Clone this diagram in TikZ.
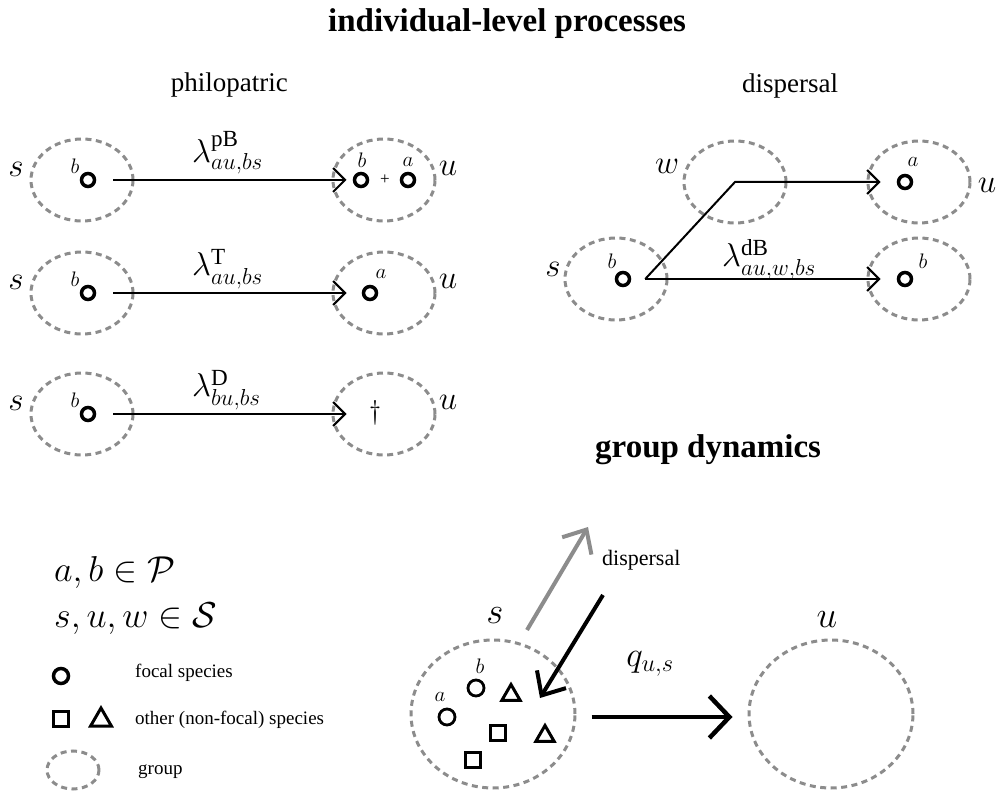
\RequirePackage{fix-cm}
\documentclass[tikz,border=0pt]{standalone}
\usepackage{fontspec}
\setmainfont{Liberation Serif}
\usepackage{tikz}
\usetikzlibrary{shapes.geometric}
\usetikzlibrary{arrows.meta}
\usetikzlibrary{positioning}

\definecolor{groupgray}{gray}{0.55}

\tikzset{
  grp/.style={ellipse, draw=groupgray, line width=3pt, dash pattern=on 6pt off 4.5pt,
    minimum width=102pt, minimum height=82pt, inner sep=0pt},
  biggrp/.style={grp, minimum width=164pt, minimum height=148pt},
  focal/.style={circle, draw, line width=3.5pt, minimum size=13pt, inner sep=0pt},
  focalsm/.style={circle, draw, line width=2.8pt, minimum width=14pt, minimum height=16pt, inner sep=0pt},
  othersq/.style={rectangle, draw, line width=3pt, minimum size=15pt, inner sep=0pt},
  othertri/.style={regular polygon, regular polygon sides=3, draw, line width=3pt, minimum size=21pt, inner sep=0pt},
  rate/.style={line width=2pt, -{Straight Barb[length=12pt,width=24pt]}},
  bigrate/.style={line width=4.5pt, -{Straight Barb[length=20pt,width=42pt]}},
  title/.style={font=\fontsize{33}{39}\selectfont\bfseries, inner sep=0pt},
  subtitle/.style={font=\fontsize{27}{32}\selectfont, inner sep=0pt},
  mlab/.style={font=\fontsize{33}{39}\selectfont, inner sep=0pt},
  slab/.style={font=\fontsize{21}{25}\selectfont, inner sep=0pt},
  leg/.style={font=\fontsize{19}{23}\selectfont, inner sep=0pt, anchor=west},
}

\begin{document}
\begin{tikzpicture}[x=1pt, y=-1pt]
\useasboundingbox (0,0) rectangle (997,791);

% titles
\node[title, anchor=base west] (ttl) at (328,32) {individual-level processes};
\node[subtitle, anchor=base east] (philo) at (288,92) {philopatric};
\node[subtitle, anchor=base west] (disp) at (742,93) {dispersal};

% philopatric birth
\node[grp] (s1) at (82,180) {};
\node[grp] (u1) at (384,180) {};
\node[focal] (b1) at (88,180) {};
\node[focal] (ub1) at (361,180) {};
\node[focal] (ua1) at (408,180) {};
\node[font=\fontsize{17}{20}\selectfont, inner sep=0pt] (plus1) at (385,180) {+};
\node[mlab] (s1lab) at (16,169) {$s$};
\node[mlab] (u1lab) at (448,168) {$u$};
\node[slab] (b1lab) at (75,166) {$b$};
\node[slab] (ub1lab) at (362,160) {$b$};
\node[slab] (ua1lab) at (408,162) {$a$};
\draw[rate] ([xshift=17pt]b1.east) -- ([xshift=15pt]u1.west);
\node[mlab, anchor=base west] (l1) at (192,163) {$\lambda^{\mathrm{pB}}_{au,bs}$};

% philopatric transition
\node[grp] (s2) at (82,293) {};
\node[grp] (u2) at (384,293) {};
\node[focal] (b2) at (88,293) {};
\node[focal] (ua2) at (370,293) {};
\node[mlab] (s2lab) at (16,282) {$s$};
\node[mlab] (u2lab) at (448,281) {$u$};
\node[slab] (b2lab) at (75,279) {$b$};
\node[slab] (ua2lab) at (381,274) {$a$};
\draw[rate] ([xshift=17pt]b2.east) -- ([xshift=15pt]u2.west);
\node[mlab, anchor=base west] (l2) at (192,276) {$\lambda^{\mathrm{T}}_{au,bs}$};

% death
\node[grp] (s3) at (82,414) {};
\node[grp] (u3) at (384,414) {};
\node[focal] (b3) at (88,414) {};
\node[font=\fontsize{27}{32}\selectfont, inner sep=0pt] (dead) at (375,413) {$\dagger$};
\node[mlab] (s3lab) at (16,403) {$s$};
\node[mlab] (u3lab) at (448,402) {$u$};
\node[slab] (b3lab) at (75,400) {$b$};
\draw[rate] ([xshift=17pt]b3.east) -- ([xshift=15pt]u3.west);
\node[mlab, anchor=base west] (l3) at (192,397) {$\lambda^{\mathrm{D}}_{bu,bs}$};

% dispersal birth
\node[grp] (ds) at (616,279) {};
\node[grp] (dw) at (735,182) {};
\node[grp] (du1) at (919,182) {};
\node[grp] (du2) at (919,279) {};
\node[focal] (db) at (623,279) {};
\node[focal] (dua) at (905,182) {};
\node[focal] (dub) at (905,279) {};
\node[mlab] (dslab) at (553,269) {$s$};
\node[mlab] (dwlab) at (667,166) {$w$};
\node[mlab] (dulab) at (987,185) {$u$};
\node[slab] (dblab) at (612,261) {$b$};
\node[slab] (dualab) at (913,162) {$a$};
\node[slab] (dublab) at (923,261) {$b$};
\coordinate (dstart) at ([xshift=14pt]db.east);
\draw[rate] (dstart) -- (dw.center) -- ([xshift=14pt]du1.west);
\draw[rate] (dstart) -- ([xshift=14pt]du2.west);
\node[mlab, anchor=base west] (l4) at (722,267) {$\lambda^{\mathrm{dB}}_{au,w,bs}$};

% group dynamics
\node[title, anchor=base west] (gttl) at (595,458) {group dynamics};
\node[biggrp] (gs) at (493,714) {};
\node[biggrp] (gu) at (831,714) {};
\node[font=\fontsize{37}{43}\selectfont, inner sep=0pt] (gslab) at (495,616) {$s$};
\node[font=\fontsize{37}{43}\selectfont, inner sep=0pt] (gulab) at (827,620) {$u$};
\node[font=\fontsize{35}{41}\selectfont, inner sep=0pt] (qlab) at (650,664) {$q_{u,s}$};
\draw[bigrate] ([shift={(15pt,-3pt)}]gs.east) -- ([shift={(-15pt,-3pt)}]gu.west);
\node[focalsm] (ga) at (447,717) {};
\node[focalsm] (gb) at (476,688) {};
\node[slab] (galab) at (440,697) {$a$};
\node[slab] (gblab) at (480,666) {$b$};
\node[othertri] (gt1) at (511,695) {};
\node[othertri] (gt2) at (545,736) {};
\node[othersq] (gq1) at (498,733) {};
\node[othersq] (gq2) at (473,760) {};
\node[font=\fontsize{22}{26}\selectfont, inner sep=0pt, anchor=west] (gdisp) at (602,560) {dispersal};
\coordinate (goutA) at (527,630);
\coordinate (goutB) at (588,527);
\coordinate (ginA) at (603,595);
\coordinate (ginB) at (540,698);
\draw[line width=4pt, groupgray, -{Straight Barb[length=19pt,width=34pt]}] (goutA) -- (goutB);
\draw[line width=4pt, -{Straight Barb[length=19pt,width=34pt]}] (ginA) -- (ginB);

% legend
\node[font=\fontsize{36}{42}\selectfont, inner sep=0pt, anchor=base west] (setP) at (54,582) {$a,b\in\mathcal{P}$};
\node[font=\fontsize{36}{42}\selectfont, inner sep=0pt, anchor=base west] (setS) at (54,627) {$s,u,w\in\mathcal{S}$};
\node[focal, minimum size=15pt] (lfoc) at (61,676) {};
\node[othersq] (lsq) at (61,719) {};
\node[othertri, minimum size=24pt] (ltri) at (101,720) {};
\node[grp, minimum width=52pt, minimum height=38pt] (lgrp) at (73,770) {};
\node[leg] (lfoctxt) at (135,673) {focal species};
\node[leg] (lothtxt) at (135,720) {other (non-focal) species};
\node[leg] (lgrptxt) at (138,772) {group};
\end{tikzpicture}
\end{document}
